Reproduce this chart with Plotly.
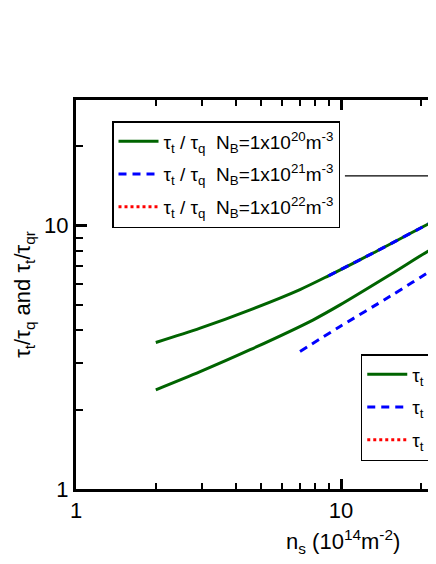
import plotly.graph_objects as go

# n_s in 10^14 m^-2, ratios
ns_q20 = [2.0, 2.94, 4.54, 7.0, 8.96, 13.2, 22.8, 30.0]
tq_20 = [3.60, 4.08, 4.79, 5.72, 6.45, 7.87, 10.5, 12.0]

ns_q21 = [8.96, 13.2, 22.8, 30.0]
tq_21 = [6.45, 7.87, 10.5, 12.0]

ns_q22 = [40.0, 60.0, 100.0]
tq_22 = [14.0, 17.0, 22.0]

ns_qr20 = [2.0, 2.94, 4.54, 7.86, 9.91, 15.3, 22.8, 30.0]
tqr_20 = [2.38, 2.79, 3.38, 4.39, 5.0, 6.51, 8.34, 9.6]

ns_qr21 = [7.0, 9.91, 15.3, 22.8, 30.0]
tqr_21 = [3.33, 4.14, 5.39, 6.91, 8.0]

ns_qr22 = [40.0, 60.0, 100.0]
tqr_22 = [9.0, 11.0, 14.0]

nb_exp = ["20", "21", "22"]
colors = ["#006400", "#0000ff", "#ff0000"]
dashes = ["solid", "8px,6px", "3px,3px"]

font = "Arial, Liberation Sans, sans-serif"

fig = go.Figure()

q_sets = [(ns_q20, tq_20), (ns_q21, tq_21), (ns_q22, tq_22)]
qr_sets = [(ns_qr20, tqr_20), (ns_qr21, tqr_21), (ns_qr22, tqr_22)]

for i in range(3):
    x, y = q_sets[i]
    fig.add_trace(go.Scatter(
        x=x, y=y, mode="lines",
        line=dict(color=colors[i], width=3, dash=dashes[i], shape="spline", smoothing=0.8),
        name="τ<sub>t</sub> / τ<sub>q</sub>  N<sub>B</sub>=1x10<sup>" + nb_exp[i] + "</sup>m<sup>-3</sup>",
        legend="legend", legendgroup="q" + nb_exp[i]))

for i in range(3):
    x, y = qr_sets[i]
    fig.add_trace(go.Scatter(
        x=x, y=y, mode="lines",
        line=dict(color=colors[i], width=3, dash=dashes[i], shape="spline", smoothing=0.8),
        name="τ<sub>t</sub> / τ<sub>qr</sub>  N<sub>B</sub>=1x10<sup>" + nb_exp[i] + "</sup>m<sup>-3</sup>",
        legend="legend2", legendgroup="qr" + nb_exp[i]))

minor_vals = [2, 3, 4, 5, 6, 7, 8, 9, 20, 30, 40, 50, 60, 70, 80, 90]

fig.update_xaxes(
    type="log", range=[0, 1.358],
    tickvals=[1, 10, 100], ticktext=["1", "10", "100"],
    ticks="inside", ticklen=10, tickwidth=2.5, tickcolor="black",
    minor=dict(tickvals=minor_vals, ticks="inside", ticklen=6, tickwidth=2, tickcolor="black"),
    showline=True, linecolor="black", linewidth=3, mirror="ticks",
    showgrid=False, zeroline=False,
    tickfont=dict(size=22, color="black", family=font))

fig.update_yaxes(
    type="log", range=[0, 1.4771],
    tickvals=[1, 10], ticktext=["1", "10"],
    ticks="inside", ticklen=11, tickwidth=2.5, tickcolor="black",
    minor=dict(tickvals=minor_vals, ticks="inside", ticklen=7, tickwidth=2, tickcolor="black"),
    showline=True, linecolor="black", linewidth=3, mirror=False,
    showgrid=False, zeroline=False,
    tickfont=dict(size=22, color="black", family=font),
    title=dict(text="τ<sub>t</sub>/τ<sub>q</sub> and τ<sub>t</sub>/τ<sub>qr</sub>",
               font=dict(size=22, color="black", family=font), standoff=8))

legend_style = dict(bgcolor="white", bordercolor="black", borderwidth=1.5,
                    font=dict(size=19, color="black", family=font),
                    itemwidth=40, xanchor="left", yanchor="top",
                    tracegroupgap=5)

# page has an 8px body margin, so the figure is 428x548
fig.update_layout(
    width=428, height=548,
    margin=dict(l=68, r=0, t=92, b=67, autoexpand=False),
    paper_bgcolor="white", plot_bgcolor="white",
    showlegend=True,
    legend=dict(x=0.1, y=0.946, **legend_style),
    legend2=dict(x=0.791, y=0.347, **legend_style),
    font=dict(family=font, color="black"))

fig.add_shape(type="line", xref="paper", yref="paper",
              x0=0.747, x1=1.0, y0=0.805, y1=0.805,
              line=dict(color="black", width=1.2))

fig.add_annotation(
    text="n<sub>s</sub> (10<sup>14</sup>m<sup>-2</sup>)",
    xref="paper", yref="paper", x=0.742, y=-0.135,
    xanchor="center", yanchor="middle", showarrow=False,
    font=dict(size=22, color="black", family=font))

fig.write_html("out.html")
